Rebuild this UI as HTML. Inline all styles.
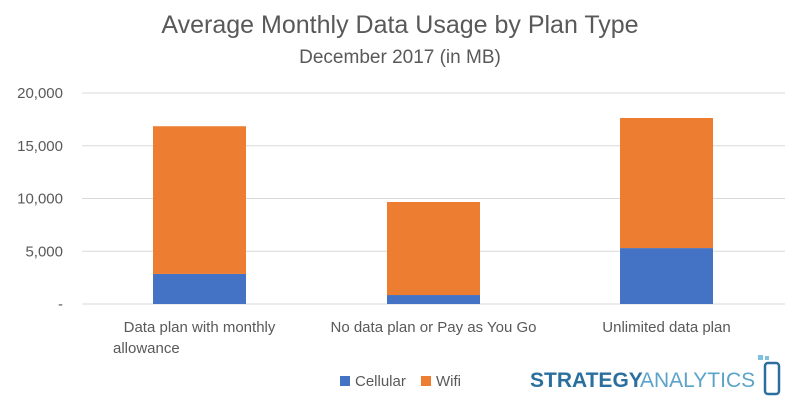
<!DOCTYPE html>
<html><head><meta charset="utf-8"><style>
body{margin:0;background:#fff;font-family:"Liberation Sans",sans-serif}
</style></head><body>
<svg id="c" width="800" height="412" xmlns="http://www.w3.org/2000/svg">
<text x="400" y="33" text-anchor="middle" font-size="25" fill="#595959">Average Monthly Data Usage by Plan Type</text>
<text x="400" y="63" text-anchor="middle" font-size="19" fill="#595959">December 2017 (in MB)</text>
<g id="grid"></g><g id="bars"></g><g id="labels"></g>
<g>
<rect x="340" y="376" width="10" height="10" fill="#4472c4"/>
<text x="355" y="386" font-size="15" fill="#595959">Cellular</text>
<rect x="421" y="376" width="10" height="10" fill="#ed7d31"/>
<text x="436" y="386" font-size="15" fill="#595959">Wifi</text>
</g>
<g>
<text x="530" y="387" font-size="21" font-weight="bold" fill="#2a6f9e">STRATEGY</text>
<text x="640" y="387" font-size="21" fill="#5ba3c9">ANALYTICS</text>
<rect x="765" y="363" width="14" height="31" rx="3" fill="none" stroke="#2a6f9e" stroke-width="2.5"/>
<rect x="758" y="355" width="5" height="5" fill="#7fc0dd"/><rect x="765" y="356" width="4" height="4" fill="#7fc0dd"/>
</g>
</svg>
<script>
const categories=["Data plan with monthly|allowance","No data plan or Pay as You Go","Unlimited data plan"];
const cellular=[2850,850,5300];
const wifi=[14000,8820,12330];
const ticks=[0,5000,10000,15000,20000];
const tickLabels=["-","5,000","10,000","15,000","20,000"];
const NS="http://www.w3.org/2000/svg";
const y0=304,y1=93,x0=82,x1=785;
const y=v=>y0-(v/20000)*(y0-y1);
const bw=93;
const xs=[153,387,620];
function mk(t,a,p){const e=document.createElementNS(NS,t);for(const k in a)e.setAttribute(k,a[k]);document.getElementById(p).appendChild(e);return e;}
ticks.forEach((t,i)=>{
 const l=mk('line',{x1:x0,x2:x1,y1:y(t),y2:y(t),stroke:'#d9d9d9','stroke-width':1},'grid');
 
 
 const tx=mk('text',{x:63,y:y(t)+5,'text-anchor':'end','font-size':15,fill:'#595959'},'grid');
 tx.textContent=tickLabels[i];
 
 
});
categories.forEach((c,i)=>{
 const x=xs[i];
 const b1=mk('rect',{x:x,width:bw,y:y(cellular[i]),height:y0-y(cellular[i]),fill:'#4472c4'},'bars');
 
 
 const tot=cellular[i]+wifi[i];
 const b2=mk('rect',{x:x,width:bw,y:y(tot),height:y(cellular[i])-y(tot),fill:'#ed7d31'},'bars');
 
 
 c.split('|').forEach((ln,j)=>{
  const t=mk('text',{x:j==0?x+bw/2:113,y:332+j*21,'text-anchor':j==0?'middle':'start','font-size':15,fill:'#595959'},'labels');
  t.textContent=ln;
  
  
 });
});
</script>
</body></html>
